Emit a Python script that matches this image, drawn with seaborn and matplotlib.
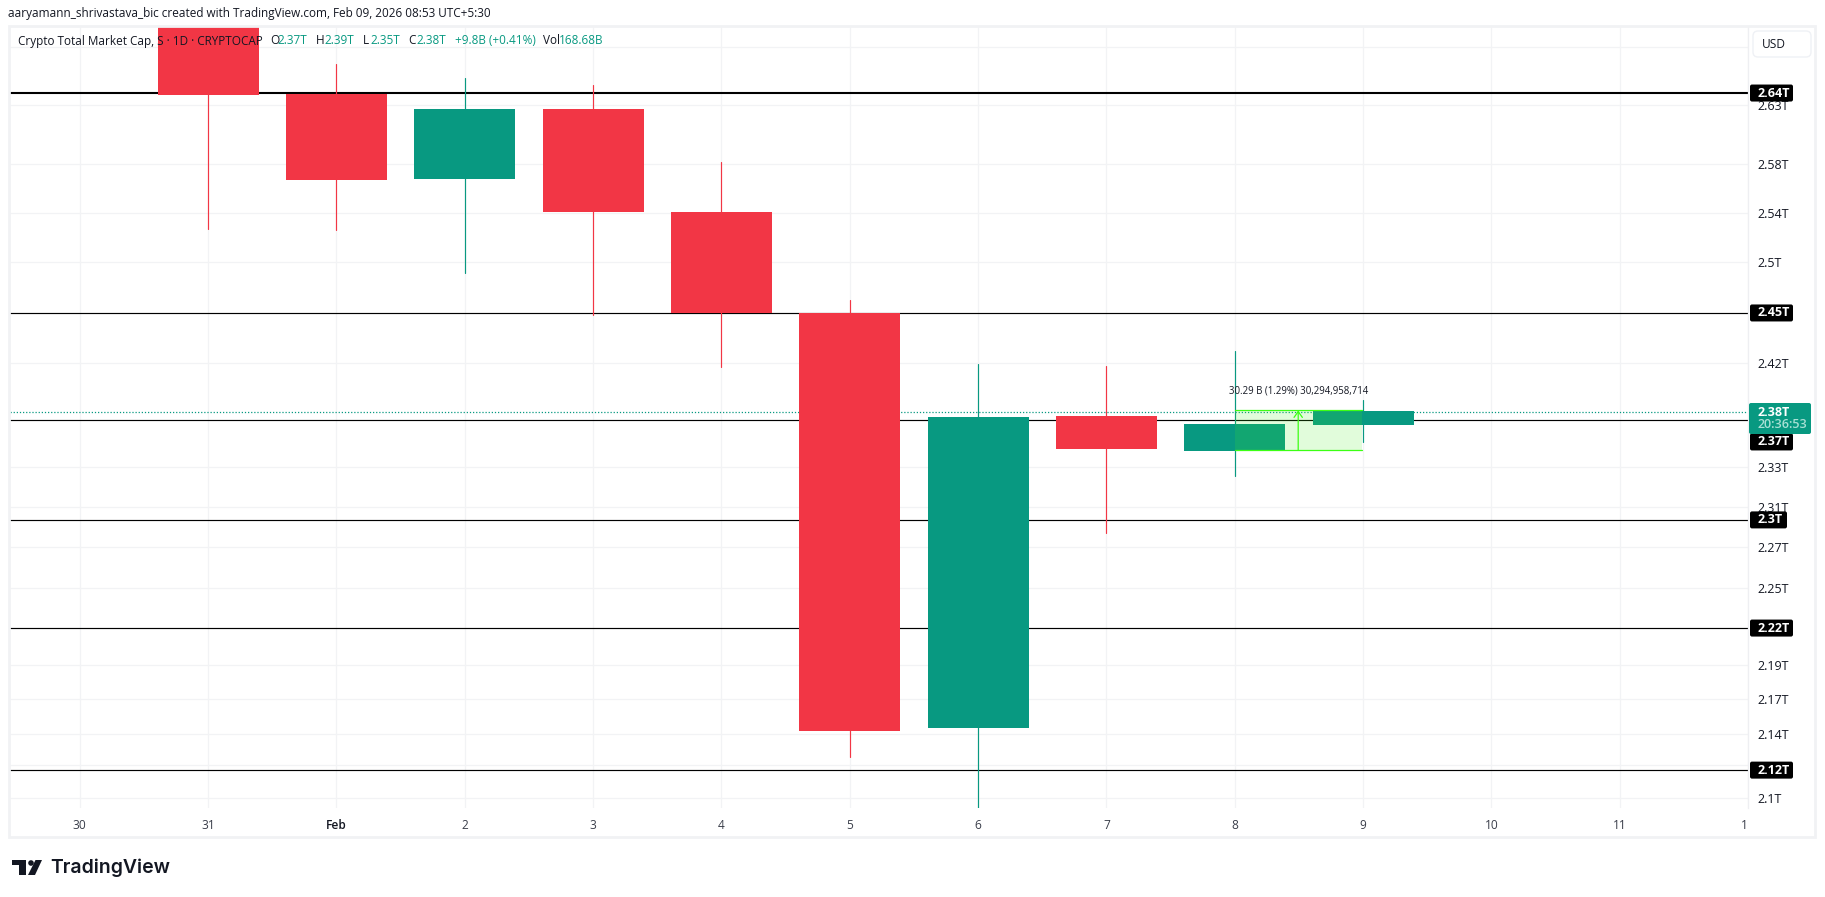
import matplotlib
matplotlib.use('Agg')
import matplotlib.pyplot as plt
from matplotlib.patches import FancyBboxPatch, Polygon, Circle, Rectangle
from matplotlib.ticker import NullLocator
import pandas as pd
import seaborn as sns

# prices in trillions
candle_day = [1, 2, 3, 4, 5, 6, 7, 8, 9, 10]
candle_open = [2.72, 2.6391, 2.5673, 2.6263, 2.5400, 2.4581, 2.1483, 2.3772, 2.3504, 2.3703]
candle_close = [2.6383, 2.5665, 2.6263, 2.5400, 2.4581, 2.1462, 2.3765, 2.3519, 2.3711, 2.3811]
candle_high = [2.75, 2.6650, 2.6529, 2.6469, 2.5815, 2.4685, 2.4177, 2.4161, 2.4279, 2.3896]
candle_low = [2.5260, 2.5252, 2.4902, 2.4565, 2.4154, 2.1282, 2.0925, 2.2887, 2.3314, 2.3573]

day_ticks = [0, 1, 2, 3, 4, 5, 6, 7, 8, 9, 10, 11, 12, 13]
day_labels = ['30', '31', 'Feb', '2', '3', '4', '5', '6', '7', '8', '9', '10', '11', '1']

price_ticks = [2.6797, 2.6297, 2.5799, 2.5392, 2.4991, 2.4185, 2.3382, 2.3081, 2.2783,
               2.2482, 2.1927, 2.1686, 2.1441, 2.1226, 2.1001]
price_labels = ['', '2.63T', '2.58T', '2.54T', '2.5T', '2.42T', '2.33T', '2.31T', '2.27T',
                '2.25T', '2.19T', '2.17T', '2.14T', '', '2.1T']

level_prices = [2.64, 2.4581, 2.3742, 2.2984, 2.2191, 2.1191]
level_widths = [1.5, 0.85, 0.85, 0.85, 0.85, 0.85]
tag_prices = [2.64, 2.4581, 2.3573, 2.2984, 2.2191, 2.1191]
tag_labels = ['2.64T', '2.45T', '2.37T', '2.3T', '2.22T', '2.12T']

last_price = 2.3803
measure_low = 2.3512
measure_high = 2.3815
measure_start = 9
measure_end = 9.99

RED = '#F23645'
TEAL = '#089981'
INK = '#131722'
GRID = '#F2F3F5'
BRIGHT = '#3CFF14'

sns.set_theme(style='white')
plt.rcParams['font.family'] = ['Open Sans', 'DejaVu Sans']

W, H = 1825, 897
fig = plt.figure(figsize=(W / 100, H / 100), dpi=100, facecolor='white')

# main chart area, 10..1748 across and 27..808 down
ax = fig.add_axes([10 / W, 1 - 808 / H, 1738 / W, 781 / H])

candles = pd.DataFrame({'day': candle_day, 'open': candle_open, 'close': candle_close,
                        'high': candle_high, 'low': candle_low})
candles['direction'] = ['up' if c >= o else 'down' for o, c in zip(candle_open, candle_close)]
candles['body_low'] = candles[['open', 'close']].min(axis=1)
candles['body'] = (candles['open'] - candles['close']).abs()
palette = {'up': TEAL, 'down': RED}

wicks = candles.melt(id_vars=['day', 'direction'], value_vars=['high', 'low'], value_name='price')
sns.lineplot(data=wicks, x='day', y='price', hue='direction', units='day', estimator=None,
             palette=palette, legend=False, lw=0.85, zorder=3, ax=ax)

for direction, group in candles.groupby('direction'):
    sns.barplot(data=group, x='day', y='body', bottom=group['body_low'].values,
                native_scale=True, width=0.787, color=palette[direction], saturation=1,
                errorbar=None, linewidth=0, zorder=4, ax=ax)

for price, lw in zip(level_prices, level_widths):
    ax.axhline(price, color='black', lw=lw, zorder=2)
ax.axhline(last_price, color=TEAL, lw=0.9, ls=(0, (1, 1.5)), zorder=2)

ax.set_yscale('log')
ax.set_xlim(-0.543, 12.993)
ax.set_ylim(2.0932, 2.6972)
ax.set_xticks(day_ticks)
ax.set_xticklabels(day_labels, fontsize=8.6, color='#3a3e4a')
ax.set_yticks(price_ticks)
ax.set_yticklabels(price_labels, fontsize=9, color=INK)
ax.yaxis.set_minor_locator(NullLocator())
ax.yaxis.tick_right()
ax.set_xlabel('')
ax.set_ylabel('')
ax.tick_params(axis='x', length=0, pad=8)
ax.tick_params(axis='y', length=0, pad=7)
ax.set_axisbelow(True)
ax.grid(True, color=GRID, lw=0.9)
for name, spine in ax.spines.items():
    spine.set_visible(name == 'right')
    spine.set_color('#EEEFF2')
    spine.set_linewidth(0.9)
x_labels = ax.get_xticklabels()
x_labels[2].set_color(INK)
x_labels[2].set_fontweight('semibold')
x_labels[-1].set_ha('right')

# measure tool over the last candles
ax.fill_between([measure_start, measure_end], measure_low, measure_high,
                color='#49F01F', alpha=0.16, lw=0, zorder=5)
ax.plot([measure_start, measure_end], [measure_high, measure_high], color=BRIGHT, lw=0.9, zorder=6)
ax.plot([measure_start, measure_end], [measure_low, measure_low], color=BRIGHT, lw=0.9, zorder=6)
measure_mid = (measure_start + measure_end) / 2
ax.annotate('', xy=(measure_mid, measure_high), xytext=(measure_mid, measure_low), zorder=6,
            arrowprops=dict(arrowstyle='->,head_length=0.35,head_width=0.25', color=BRIGHT, lw=0.9,
                            shrinkA=0, shrinkB=0))
ax.text(measure_mid, 2.3966, '30.29 B (1.29%) 30,294,958,714', fontsize=6.9, color=INK,
        ha='center', va='center', zorder=7)

# everything outside the scales goes on an overlay in pixel coordinates
over = fig.add_axes([0, 0, 1, 1], facecolor='none')
over.set_xlim(0, W)
over.set_ylim(H, 0)
over.axis('off')

over.add_patch(Rectangle((9, 26), 1806, 811, fill=False, ec='#F1F2F4', lw=2))
over.add_patch(FancyBboxPatch((1756, 34), 52, 20, boxstyle='round,pad=3,rounding_size=5',
                              fc='white', ec='#EFF1F5', lw=1))
over.text(1762, 44, 'USD', fontsize=8.6, color=INK, va='center')

over.text(8, 14, 'aaryamann_shrivastava_bic created with TradingView.com, Feb 09, 2026 08:53 UTC+5:30',
          fontsize=8.45, color=INK, va='center')

legend_parts = [(18, 'Crypto Total Market Cap, S · 1D · CRYPTOCAP', INK),
                (270, 'O', INK), (277, '2.37T', TEAL), (316, 'H', INK), (324, '2.39T', TEAL),
                (363, 'L', INK), (370, '2.35T', TEAL), (408, 'C', INK), (416, '2.38T', TEAL),
                (455, '+9.8B (+0.41%)', TEAL), (543, 'Vol', INK), (559, '168.68B', TEAL)]
for x, part, color in legend_parts:
    over.text(x, 41, part, fontsize=8.5, color=color, va='center')

# price tags sit over the tick labels, placed through the price scale
for price, label in zip(tag_prices, tag_labels):
    tag_y = H - ax.transData.transform((0, price))[1]
    tag_w = 37 if len(label) == 4 else 43
    over.add_patch(FancyBboxPatch((1751, tag_y - 7.5), tag_w - 2, 15,
                                  boxstyle='round,pad=1,rounding_size=2', fc='black', ec='none'))
    over.text(1758, tag_y, label, fontsize=9, fontweight='bold', color='white', va='center')

over.add_patch(FancyBboxPatch((1750, 404), 60, 29, boxstyle='round,pad=1,rounding_size=2',
                              fc=TEAL, ec='none'))
over.text(1758, 412, '2.38T', fontsize=9, fontweight='bold', color='white', va='center')
over.text(1758, 425, '20:36:53', fontsize=9, fontweight='semibold', color='#A9E0D5', va='center')

logo = '#131722'
over.add_patch(Polygon([(12, 860), (26, 860), (26, 875), (19, 875), (19, 865), (12, 865)], fc=logo, ec='none'))
over.add_patch(Circle((31, 863), 2.8, fc=logo, ec='none'))
over.add_patch(Polygon([(35.5, 860), (42, 860), (35, 875), (28, 875)], fc=logo, ec='none'))
over.text(50, 868, 'TradingView', fontsize=14, fontweight='semibold', color=logo, va='center',
          family=['Inter', 'DejaVu Sans'])

plt.savefig('out.png', dpi=100)
